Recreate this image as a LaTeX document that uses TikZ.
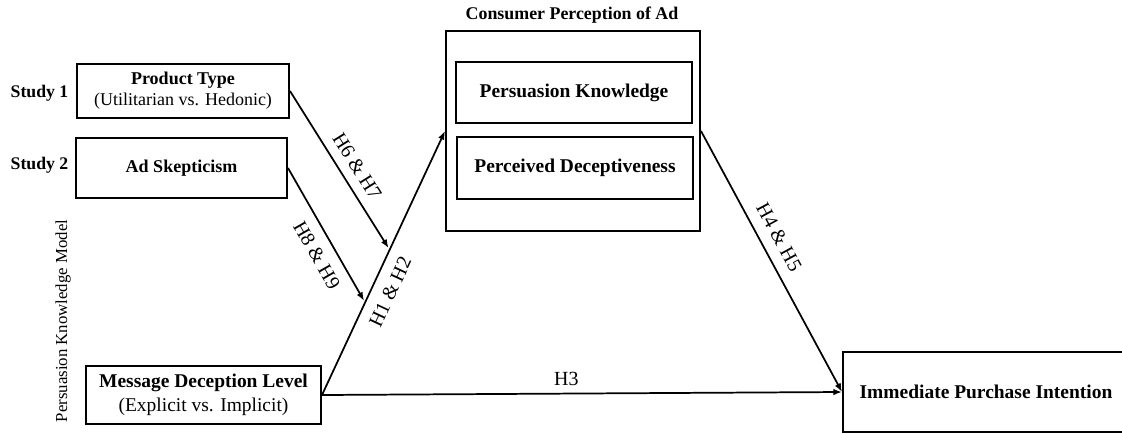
\documentclass[tikz,border=0pt]{standalone}
\usepackage{fontspec}
\setmainfont{Liberation Serif}
\usetikzlibrary{arrows.meta,calc}
\begin{document}
\begin{tikzpicture}[x=0.75pt,y=-0.75pt,
  outerbox/.style={draw, line width=1.5pt, inner sep=0pt, align=center},
  innerbox/.style={draw, line width=0.8pt, inner sep=0pt, align=center},
  link/.style={line width=1.3pt, -{Latex[length=6.5pt,width=5pt]}},
  hyp/.style={font=\fontsize{15}{18}\selectfont, sloped, inner sep=2pt},
  smallbold/.style={font=\fontsize{13.5}{15.75}\selectfont},
  bigtext/.style={font=\fontsize{14.6}{18}\selectfont}]
\useasboundingbox (0,0) rectangle (1122,433);

% study labels and model caption
\node[font=\fontsize{13.3}{16}\selectfont\bfseries] (s1) at (39.5,93) {Study 1};
\node[font=\fontsize{13.3}{16}\selectfont\bfseries] (s2) at (39.5,165) {Study 2};
\node[rotate=90, font=\fontsize{12.6}{15}\selectfont] (pkm) at (63,321) {Persuasion Knowledge Model};

% moderators
\node[outerbox, smallbold, minimum width=159pt, minimum height=40.5pt] (pt) at (183,91)
  {\textbf{Product Type}\\(Utilitarian vs. Hedonic)};
\node[outerbox, smallbold, minimum width=158.25pt, minimum height=45pt] (as) at (181.5,168)
  {\textbf{Ad Skepticism}};

% independent variable
\node[outerbox, bigtext, minimum width=176.25pt, minimum height=43.5pt] (mdl) at (203.5,395)
  {\textbf{Message Deception Level}\\(Explicit vs. Implicit)};

% mediators
\node[font=\fontsize{13.4}{16}\selectfont\bfseries] (cpat) at (572,15) {Consumer Perception of Ad};
\node[outerbox, minimum width=190.5pt, minimum height=150pt] (cpa) at (573,131) {};
\node[innerbox, bigtext, minimum width=177pt, minimum height=45.75pt] (pk) at (574,92.5)
  {\textbf{Persuasion Knowledge}};
\node[innerbox, bigtext, minimum width=177pt, minimum height=46.5pt] (pd) at (575,168)
  {\textbf{Perceived Deceptiveness}};

% outcome
\node[outerbox, bigtext, minimum width=214.5pt, minimum height=60pt] (ipi) at (986,392)
  {\textbf{Immediate Purchase Intention}};

% points on the main path where the moderators act
\coordinate (m1) at ($(mdl.east)!0.55!(cpa.west)$);
\coordinate (m2) at ($(mdl.east)!0.35!(cpa.west)$);

% paths
\draw[link] (mdl.east) -- node[hyp, below=6pt, pos=0.42] {H1 \& H2} (cpa.west);
\draw[link] (mdl.east) -- node[hyp, above=3pt, pos=0.47] {H3} (ipi.west);
\draw[link] (cpa.east) -- node[hyp, above=6pt, pos=0.44] {H4 \& H5} (ipi.west);
\draw[link, shorten >=1.5pt] (pt.east) -- node[hyp, above=5pt, pos=0.53] {H6 \& H7} (m1);
\draw[link, shorten >=1.5pt] (as.east) -- node[hyp, below=6pt, pos=0.58] {H8 \& H9} (m2);
\end{tikzpicture}
\end{document}
